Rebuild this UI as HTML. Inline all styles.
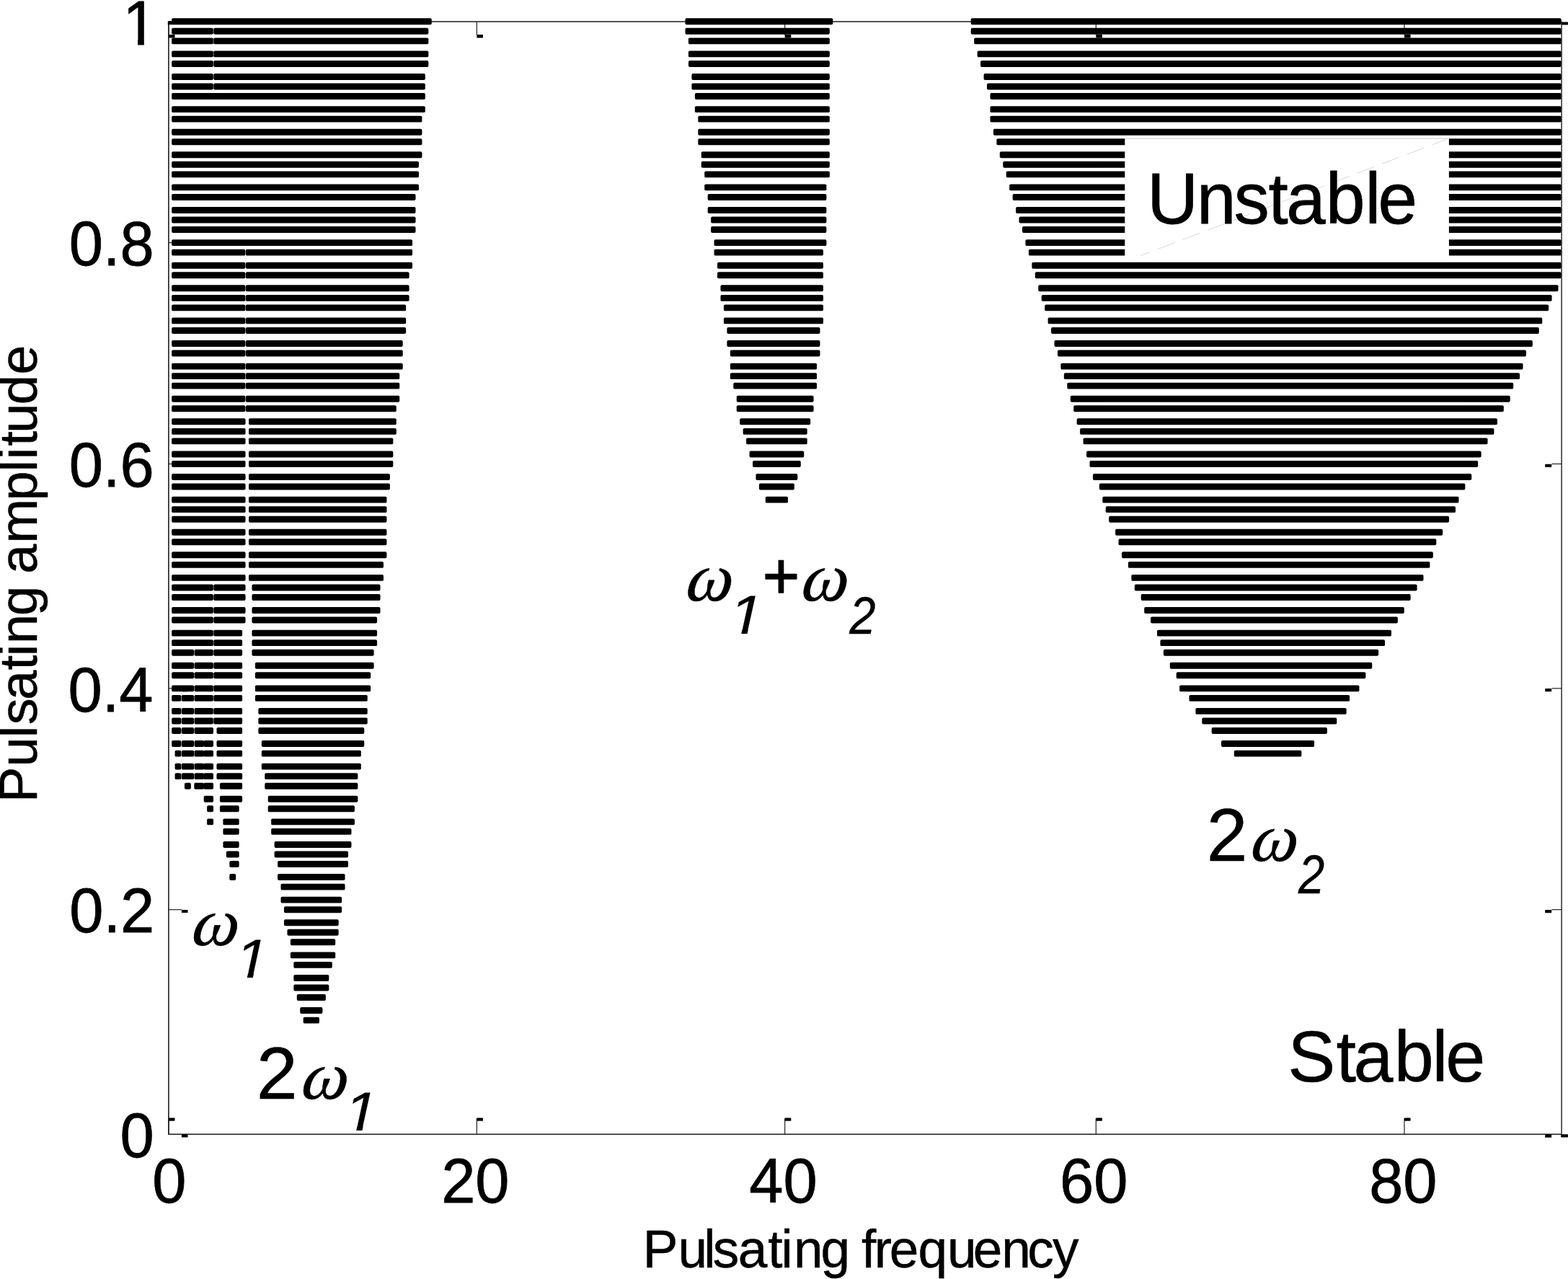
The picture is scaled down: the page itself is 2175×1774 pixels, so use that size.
<!DOCTYPE html>
<html><head><meta charset="utf-8"><title>Stability chart</title>
<style>html,body{margin:0;padding:0;background:#fff;overflow:hidden}svg{display:block}</style></head>
<body>
<svg width="2175" height="1774" viewBox="0 0 2175 1774" role="img" aria-label="Stability chart: pulsating amplitude versus pulsating frequency">
<defs><clipPath id="c1"><path d="M-10 -90H70V-10H34.73 V3H24.4 V-10H-10Z"/></clipPath><clipPath id="c1i"><path d="M-10 -90H80V-10H31.3 L28.8 3H19.15 L21.65 -10H-10Z"/></clipPath></defs>
<rect width="2175" height="1774" fill="#fff"/>
<g fill="none" stroke="#1c1c1c" stroke-width="1.6">
<path d="M233.9 29.95V1573.3H2166.1M233.9 29.95H2166.1"/>
</g>
<g fill="#000">
<rect x="233.3" y="1551.1" width="1.2" height="22.2" fill="#222"/>
<rect x="233.9" y="1550.6" width="8.6" height="4.1" rx="0.6"/>
<rect x="233.3" y="29.95" width="1.2" height="18.6" fill="#222"/>
<rect x="233.9" y="48" width="8.6" height="4.5" rx="0.6"/>
<rect x="660.8" y="1551.1" width="1.2" height="22.2" fill="#222"/>
<rect x="661.4" y="1550.6" width="8.6" height="4.1" rx="0.6"/>
<rect x="660.8" y="29.95" width="1.2" height="18.6" fill="#222"/>
<rect x="661.4" y="48" width="8.6" height="4.5" rx="0.6"/>
<rect x="1088.1" y="1551.1" width="1.2" height="22.2" fill="#222"/>
<rect x="1088.7" y="1550.6" width="8.6" height="4.1" rx="0.6"/>
<rect x="1088.1" y="29.95" width="1.2" height="18.6" fill="#222"/>
<rect x="1088.7" y="48" width="8.6" height="4.5" rx="0.6"/>
<rect x="1519.7" y="1551.1" width="1.2" height="22.2" fill="#222"/>
<rect x="1520.3" y="1550.6" width="8.6" height="4.1" rx="0.6"/>
<rect x="1519.7" y="29.95" width="1.2" height="18.6" fill="#222"/>
<rect x="1520.3" y="48" width="8.6" height="4.5" rx="0.6"/>
<rect x="1947.4" y="1551.1" width="1.2" height="22.2" fill="#222"/>
<rect x="1948" y="1550.6" width="8.6" height="4.1" rx="0.6"/>
<rect x="1947.4" y="29.95" width="1.2" height="18.6" fill="#222"/>
<rect x="1948" y="48" width="8.6" height="4.5" rx="0.6"/>
<rect x="233.9" y="336.02" width="18" height="1.2" fill="#222"/>
<rect x="2152.5" y="336.02" width="13.6" height="1.2" fill="#222"/>
<rect x="251.9" y="336.82" width="8.6" height="4.1" rx="0.6"/>
<rect x="2143.2" y="336.82" width="9" height="4.3" rx="0.6"/>
<rect x="233.9" y="642.87" width="18" height="1.2" fill="#222"/>
<rect x="2152.5" y="642.87" width="13.6" height="1.2" fill="#222"/>
<rect x="251.9" y="643.67" width="8.6" height="4.1" rx="0.6"/>
<rect x="2143.2" y="643.67" width="9" height="4.3" rx="0.6"/>
<rect x="233.9" y="954.23" width="18" height="1.2" fill="#222"/>
<rect x="2152.5" y="954.23" width="13.6" height="1.2" fill="#222"/>
<rect x="251.9" y="955.03" width="8.6" height="4.1" rx="0.6"/>
<rect x="2143.2" y="955.03" width="9" height="4.3" rx="0.6"/>
<rect x="233.9" y="1261.08" width="18" height="1.2" fill="#222"/>
<rect x="2152.5" y="1261.08" width="13.6" height="1.2" fill="#222"/>
<rect x="251.9" y="1261.88" width="8.6" height="4.1" rx="0.6"/>
<rect x="2143.2" y="1261.88" width="9" height="4.3" rx="0.6"/>
<rect x="251.9" y="1573.5" width="8.6" height="4.1" rx="0.6"/>
<rect x="2143.2" y="1573.5" width="9" height="4.3" rx="0.6"/>
<rect x="232.8" y="29.3" width="7.2" height="4.9"/>
<rect x="2165.6" y="30.4" width="9.4" height="4.2" rx="0.6"/>
<rect x="2165.2" y="1573.3" width="9.8" height="4.1" rx="0.6"/>
</g>
<g fill="#000">
<rect x="238.15" y="25.32" width="360.63" height="8.9" rx="1.9"/>
<rect x="950.5" y="25.32" width="204.8" height="8.9" rx="1.9"/>
<rect x="1346.75" y="25.32" width="818.95" height="8.9" rx="1.9"/>
<rect x="238.15" y="38.86" width="57.63" height="8.9" rx="1.9"/>
<rect x="296.28" y="38.86" width="298.05" height="8.9" rx="1.9"/>
<rect x="950.5" y="38.86" width="200.35" height="8.9" rx="1.9"/>
<rect x="1346.75" y="38.86" width="818.95" height="8.9" rx="1.9"/>
<rect x="238.15" y="52.39" width="57.63" height="8.9" rx="1.9"/>
<rect x="296.28" y="52.39" width="298.05" height="8.9" rx="1.9"/>
<rect x="954.95" y="52.39" width="195.9" height="8.9" rx="1.9"/>
<rect x="1351.2" y="52.39" width="814.5" height="8.9" rx="1.9"/>
<rect x="238.15" y="70.44" width="57.63" height="8.9" rx="1.9"/>
<rect x="296.28" y="70.44" width="298.05" height="8.9" rx="1.9"/>
<rect x="954.95" y="70.44" width="195.9" height="8.9" rx="1.9"/>
<rect x="1355.65" y="70.44" width="810.05" height="8.9" rx="1.9"/>
<rect x="238.15" y="83.98" width="57.63" height="8.9" rx="1.9"/>
<rect x="296.28" y="83.98" width="298.05" height="8.9" rx="1.9"/>
<rect x="954.95" y="83.98" width="195.9" height="8.9" rx="1.9"/>
<rect x="1360.1" y="83.98" width="805.6" height="8.9" rx="1.9"/>
<rect x="238.15" y="102.03" width="57.63" height="8.9" rx="1.9"/>
<rect x="296.28" y="102.03" width="293.6" height="8.9" rx="1.9"/>
<rect x="959.41" y="102.03" width="191.44" height="8.9" rx="1.9"/>
<rect x="1364.56" y="102.03" width="801.14" height="8.9" rx="1.9"/>
<rect x="238.15" y="115.57" width="57.63" height="8.9" rx="1.9"/>
<rect x="296.28" y="115.57" width="293.6" height="8.9" rx="1.9"/>
<rect x="959.41" y="115.57" width="191.44" height="8.9" rx="1.9"/>
<rect x="1369.01" y="115.57" width="796.69" height="8.9" rx="1.9"/>
<rect x="238.15" y="129.11" width="351.72" height="8.9" rx="1.9"/>
<rect x="963.86" y="129.11" width="186.99" height="8.9" rx="1.9"/>
<rect x="1373.46" y="129.11" width="792.24" height="8.9" rx="1.9"/>
<rect x="238.15" y="147.16" width="351.72" height="8.9" rx="1.9"/>
<rect x="963.86" y="147.16" width="186.99" height="8.9" rx="1.9"/>
<rect x="1373.46" y="147.16" width="792.24" height="8.9" rx="1.9"/>
<rect x="238.15" y="160.7" width="347.27" height="8.9" rx="1.9"/>
<rect x="968.31" y="160.7" width="182.54" height="8.9" rx="1.9"/>
<rect x="1373.46" y="160.7" width="792.24" height="8.9" rx="1.9"/>
<rect x="238.15" y="178.75" width="347.27" height="8.9" rx="1.9"/>
<rect x="968.31" y="178.75" width="182.54" height="8.9" rx="1.9"/>
<rect x="1377.91" y="178.75" width="787.79" height="8.9" rx="1.9"/>
<rect x="238.15" y="192.28" width="347.27" height="8.9" rx="1.9"/>
<rect x="968.31" y="192.28" width="182.54" height="8.9" rx="1.9"/>
<rect x="1382.37" y="192.28" width="783.33" height="8.9" rx="1.9"/>
<rect x="238.15" y="210.33" width="347.27" height="8.9" rx="1.9"/>
<rect x="972.76" y="210.33" width="178.09" height="8.9" rx="1.9"/>
<rect x="1386.82" y="210.33" width="778.88" height="8.9" rx="1.9"/>
<rect x="238.15" y="223.87" width="342.82" height="8.9" rx="1.9"/>
<rect x="972.76" y="223.87" width="178.09" height="8.9" rx="1.9"/>
<rect x="1391.27" y="223.87" width="774.43" height="8.9" rx="1.9"/>
<rect x="238.15" y="237.41" width="342.82" height="8.9" rx="1.9"/>
<rect x="977.22" y="237.41" width="173.64" height="8.9" rx="1.9"/>
<rect x="1395.72" y="237.41" width="769.98" height="8.9" rx="1.9"/>
<rect x="238.15" y="255.46" width="342.82" height="8.9" rx="1.9"/>
<rect x="977.22" y="255.46" width="169.18" height="8.9" rx="1.9"/>
<rect x="1400.17" y="255.46" width="765.53" height="8.9" rx="1.9"/>
<rect x="238.15" y="269" width="338.37" height="8.9" rx="1.9"/>
<rect x="981.67" y="269" width="164.73" height="8.9" rx="1.9"/>
<rect x="1404.63" y="269" width="761.07" height="8.9" rx="1.9"/>
<rect x="238.15" y="287.05" width="338.37" height="8.9" rx="1.9"/>
<rect x="981.67" y="287.05" width="164.73" height="8.9" rx="1.9"/>
<rect x="1409.08" y="287.05" width="756.62" height="8.9" rx="1.9"/>
<rect x="238.15" y="300.58" width="338.37" height="8.9" rx="1.9"/>
<rect x="986.12" y="300.58" width="160.28" height="8.9" rx="1.9"/>
<rect x="1413.53" y="300.58" width="752.17" height="8.9" rx="1.9"/>
<rect x="238.15" y="314.12" width="338.37" height="8.9" rx="1.9"/>
<rect x="986.12" y="314.12" width="160.28" height="8.9" rx="1.9"/>
<rect x="1417.98" y="314.12" width="747.72" height="8.9" rx="1.9"/>
<rect x="238.15" y="332.17" width="333.92" height="8.9" rx="1.9"/>
<rect x="990.57" y="332.17" width="155.83" height="8.9" rx="1.9"/>
<rect x="1422.44" y="332.17" width="743.26" height="8.9" rx="1.9"/>
<rect x="238.15" y="345.71" width="102.15" height="8.9" rx="1.9"/>
<rect x="340.8" y="345.71" width="231.26" height="8.9" rx="1.9"/>
<rect x="990.57" y="345.71" width="151.37" height="8.9" rx="1.9"/>
<rect x="1426.89" y="345.71" width="738.81" height="8.9" rx="1.9"/>
<rect x="238.15" y="363.76" width="102.15" height="8.9" rx="1.9"/>
<rect x="340.8" y="363.76" width="231.26" height="8.9" rx="1.9"/>
<rect x="995.02" y="363.76" width="146.92" height="8.9" rx="1.9"/>
<rect x="1431.34" y="363.76" width="734.36" height="8.9" rx="1.9"/>
<rect x="238.15" y="377.3" width="102.15" height="8.9" rx="1.9"/>
<rect x="340.8" y="377.3" width="226.81" height="8.9" rx="1.9"/>
<rect x="995.02" y="377.3" width="146.92" height="8.9" rx="1.9"/>
<rect x="1435.79" y="377.3" width="729.91" height="8.9" rx="1.9"/>
<rect x="238.15" y="395.35" width="102.15" height="8.9" rx="1.9"/>
<rect x="340.8" y="395.35" width="226.81" height="8.9" rx="1.9"/>
<rect x="999.48" y="395.35" width="142.47" height="8.9" rx="1.9"/>
<rect x="1440.24" y="395.35" width="721.26" height="8.9" rx="1.9"/>
<rect x="238.15" y="408.88" width="102.15" height="8.9" rx="1.9"/>
<rect x="340.8" y="408.88" width="226.81" height="8.9" rx="1.9"/>
<rect x="999.48" y="408.88" width="142.47" height="8.9" rx="1.9"/>
<rect x="1444.7" y="408.88" width="707.9" height="8.9" rx="1.9"/>
<rect x="238.15" y="422.42" width="102.15" height="8.9" rx="1.9"/>
<rect x="340.8" y="422.42" width="222.36" height="8.9" rx="1.9"/>
<rect x="1003.93" y="422.42" width="138.02" height="8.9" rx="1.9"/>
<rect x="1449.15" y="422.42" width="699" height="8.9" rx="1.9"/>
<rect x="238.15" y="440.47" width="102.15" height="8.9" rx="1.9"/>
<rect x="340.8" y="440.47" width="222.36" height="8.9" rx="1.9"/>
<rect x="1003.93" y="440.47" width="138.02" height="8.9" rx="1.9"/>
<rect x="1453.6" y="440.47" width="685.64" height="8.9" rx="1.9"/>
<rect x="238.15" y="454.01" width="102.15" height="8.9" rx="1.9"/>
<rect x="340.8" y="454.01" width="222.36" height="8.9" rx="1.9"/>
<rect x="1008.38" y="454.01" width="129.11" height="8.9" rx="1.9"/>
<rect x="1458.05" y="454.01" width="676.73" height="8.9" rx="1.9"/>
<rect x="238.15" y="472.06" width="102.15" height="8.9" rx="1.9"/>
<rect x="340.8" y="472.06" width="217.91" height="8.9" rx="1.9"/>
<rect x="1008.38" y="472.06" width="129.11" height="8.9" rx="1.9"/>
<rect x="1462.51" y="472.06" width="663.38" height="8.9" rx="1.9"/>
<rect x="238.15" y="485.6" width="102.15" height="8.9" rx="1.9"/>
<rect x="340.8" y="485.6" width="217.91" height="8.9" rx="1.9"/>
<rect x="1012.83" y="485.6" width="124.66" height="8.9" rx="1.9"/>
<rect x="1466.96" y="485.6" width="650.02" height="8.9" rx="1.9"/>
<rect x="238.15" y="503.65" width="102.15" height="8.9" rx="1.9"/>
<rect x="340.8" y="503.65" width="217.91" height="8.9" rx="1.9"/>
<rect x="1012.83" y="503.65" width="120.21" height="8.9" rx="1.9"/>
<rect x="1471.41" y="503.65" width="641.12" height="8.9" rx="1.9"/>
<rect x="238.15" y="517.18" width="102.15" height="8.9" rx="1.9"/>
<rect x="340.8" y="517.18" width="213.46" height="8.9" rx="1.9"/>
<rect x="1012.83" y="517.18" width="120.21" height="8.9" rx="1.9"/>
<rect x="1475.86" y="517.18" width="632.21" height="8.9" rx="1.9"/>
<rect x="238.15" y="530.72" width="102.15" height="8.9" rx="1.9"/>
<rect x="340.8" y="530.72" width="213.46" height="8.9" rx="1.9"/>
<rect x="1017.29" y="530.72" width="115.76" height="8.9" rx="1.9"/>
<rect x="1480.31" y="530.72" width="618.86" height="8.9" rx="1.9"/>
<rect x="238.15" y="548.77" width="102.15" height="8.9" rx="1.9"/>
<rect x="340.8" y="548.77" width="213.46" height="8.9" rx="1.9"/>
<rect x="1021.74" y="548.77" width="106.85" height="8.9" rx="1.9"/>
<rect x="1484.77" y="548.77" width="609.95" height="8.9" rx="1.9"/>
<rect x="238.15" y="562.31" width="102.15" height="8.9" rx="1.9"/>
<rect x="340.8" y="562.31" width="209" height="8.9" rx="1.9"/>
<rect x="1021.74" y="562.31" width="106.85" height="8.9" rx="1.9"/>
<rect x="1489.22" y="562.31" width="596.59" height="8.9" rx="1.9"/>
<rect x="238.15" y="580.36" width="102.4" height="8.9" rx="1.9"/>
<rect x="345" y="580.36" width="204.8" height="8.9" rx="1.9"/>
<rect x="1026.19" y="580.36" width="97.95" height="8.9" rx="1.9"/>
<rect x="1493.67" y="580.36" width="583.24" height="8.9" rx="1.9"/>
<rect x="238.15" y="593.89" width="102.4" height="8.9" rx="1.9"/>
<rect x="345" y="593.89" width="204.8" height="8.9" rx="1.9"/>
<rect x="1030.64" y="593.89" width="89.04" height="8.9" rx="1.9"/>
<rect x="1498.12" y="593.89" width="574.33" height="8.9" rx="1.9"/>
<rect x="238.15" y="607.43" width="102.4" height="8.9" rx="1.9"/>
<rect x="345" y="607.43" width="200.35" height="8.9" rx="1.9"/>
<rect x="1035.09" y="607.43" width="84.59" height="8.9" rx="1.9"/>
<rect x="1502.57" y="607.43" width="560.98" height="8.9" rx="1.9"/>
<rect x="238.15" y="625.48" width="102.4" height="8.9" rx="1.9"/>
<rect x="345" y="625.48" width="200.35" height="8.9" rx="1.9"/>
<rect x="1039.55" y="625.48" width="75.69" height="8.9" rx="1.9"/>
<rect x="1507.03" y="625.48" width="547.62" height="8.9" rx="1.9"/>
<rect x="238.15" y="639.02" width="102.4" height="8.9" rx="1.9"/>
<rect x="345" y="639.02" width="200.35" height="8.9" rx="1.9"/>
<rect x="1044" y="639.02" width="66.78" height="8.9" rx="1.9"/>
<rect x="1511.48" y="639.02" width="538.72" height="8.9" rx="1.9"/>
<rect x="238.15" y="657.07" width="102.4" height="8.9" rx="1.9"/>
<rect x="345" y="657.07" width="195.9" height="8.9" rx="1.9"/>
<rect x="1048.45" y="657.07" width="57.88" height="8.9" rx="1.9"/>
<rect x="1515.93" y="657.07" width="525.36" height="8.9" rx="1.9"/>
<rect x="238.15" y="670.61" width="102.4" height="8.9" rx="1.9"/>
<rect x="345" y="670.61" width="195.9" height="8.9" rx="1.9"/>
<rect x="1052.9" y="670.61" width="48.97" height="8.9" rx="1.9"/>
<rect x="1524.84" y="670.61" width="507.55" height="8.9" rx="1.9"/>
<rect x="238.15" y="688.66" width="102.4" height="8.9" rx="1.9"/>
<rect x="345" y="688.66" width="191.44" height="8.9" rx="1.9"/>
<rect x="1061.81" y="688.66" width="31.17" height="8.9" rx="1.9"/>
<rect x="1529.29" y="688.66" width="494.19" height="8.9" rx="1.9"/>
<rect x="238.15" y="702.19" width="102.4" height="8.9" rx="1.9"/>
<rect x="345" y="702.19" width="191.44" height="8.9" rx="1.9"/>
<rect x="1533.74" y="702.19" width="485.29" height="8.9" rx="1.9"/>
<rect x="238.15" y="715.73" width="102.4" height="8.9" rx="1.9"/>
<rect x="345" y="715.73" width="191.44" height="8.9" rx="1.9"/>
<rect x="1538.19" y="715.73" width="471.93" height="8.9" rx="1.9"/>
<rect x="238.15" y="733.78" width="102.4" height="8.9" rx="1.9"/>
<rect x="345" y="733.78" width="191.44" height="8.9" rx="1.9"/>
<rect x="1547.1" y="733.78" width="454.12" height="8.9" rx="1.9"/>
<rect x="238.15" y="747.32" width="102.4" height="8.9" rx="1.9"/>
<rect x="345" y="747.32" width="191.44" height="8.9" rx="1.9"/>
<rect x="1551.55" y="747.32" width="440.77" height="8.9" rx="1.9"/>
<rect x="238.15" y="765.37" width="102.4" height="8.9" rx="1.9"/>
<rect x="345" y="765.37" width="191.44" height="8.9" rx="1.9"/>
<rect x="1556" y="765.37" width="431.86" height="8.9" rx="1.9"/>
<rect x="238.15" y="778.91" width="102.4" height="8.9" rx="1.9"/>
<rect x="345" y="778.91" width="186.99" height="8.9" rx="1.9"/>
<rect x="1564.91" y="778.91" width="418.51" height="8.9" rx="1.9"/>
<rect x="238.15" y="796.96" width="102.4" height="8.9" rx="1.9"/>
<rect x="345" y="796.96" width="186.99" height="8.9" rx="1.9"/>
<rect x="1569.36" y="796.96" width="405.15" height="8.9" rx="1.9"/>
<rect x="238.15" y="810.5" width="57.63" height="8.9" rx="1.9"/>
<rect x="296.28" y="810.5" width="44.27" height="8.9" rx="1.9"/>
<rect x="349.46" y="810.5" width="178.09" height="8.9" rx="1.9"/>
<rect x="1573.81" y="810.5" width="391.79" height="8.9" rx="1.9"/>
<rect x="238.15" y="824.03" width="57.63" height="8.9" rx="1.9"/>
<rect x="296.28" y="824.03" width="44.27" height="8.9" rx="1.9"/>
<rect x="349.46" y="824.03" width="178.09" height="8.9" rx="1.9"/>
<rect x="1582.71" y="824.03" width="373.98" height="8.9" rx="1.9"/>
<rect x="238.15" y="842.08" width="57.63" height="8.9" rx="1.9"/>
<rect x="296.28" y="842.08" width="44.27" height="8.9" rx="1.9"/>
<rect x="349.46" y="842.08" width="178.09" height="8.9" rx="1.9"/>
<rect x="1587.17" y="842.08" width="360.63" height="8.9" rx="1.9"/>
<rect x="238.15" y="855.62" width="57.63" height="8.9" rx="1.9"/>
<rect x="296.28" y="855.62" width="44.27" height="8.9" rx="1.9"/>
<rect x="349.46" y="855.62" width="173.64" height="8.9" rx="1.9"/>
<rect x="1596.07" y="855.62" width="342.82" height="8.9" rx="1.9"/>
<rect x="238.15" y="873.67" width="57.63" height="8.9" rx="1.9"/>
<rect x="296.28" y="873.67" width="39.82" height="8.9" rx="1.9"/>
<rect x="349.46" y="873.67" width="173.64" height="8.9" rx="1.9"/>
<rect x="1604.98" y="873.67" width="325.01" height="8.9" rx="1.9"/>
<rect x="238.15" y="887.21" width="57.63" height="8.9" rx="1.9"/>
<rect x="296.28" y="887.21" width="39.82" height="8.9" rx="1.9"/>
<rect x="349.46" y="887.21" width="173.64" height="8.9" rx="1.9"/>
<rect x="1609.43" y="887.21" width="311.65" height="8.9" rx="1.9"/>
<rect x="238.15" y="900.75" width="30.92" height="8.9" rx="1.9"/>
<rect x="269.57" y="900.75" width="26.21" height="8.9" rx="1.9"/>
<rect x="296.28" y="900.75" width="39.82" height="8.9" rx="1.9"/>
<rect x="349.46" y="900.75" width="169.18" height="8.9" rx="1.9"/>
<rect x="1613.88" y="900.75" width="298.3" height="8.9" rx="1.9"/>
<rect x="238.15" y="918.79" width="30.92" height="8.9" rx="1.9"/>
<rect x="269.57" y="918.79" width="26.21" height="8.9" rx="1.9"/>
<rect x="296.28" y="918.79" width="39.82" height="8.9" rx="1.9"/>
<rect x="353.91" y="918.79" width="164.73" height="8.9" rx="1.9"/>
<rect x="1622.78" y="918.79" width="280.49" height="8.9" rx="1.9"/>
<rect x="238.15" y="932.33" width="30.92" height="8.9" rx="1.9"/>
<rect x="269.57" y="932.33" width="26.21" height="8.9" rx="1.9"/>
<rect x="296.28" y="932.33" width="39.82" height="8.9" rx="1.9"/>
<rect x="353.91" y="932.33" width="160.28" height="8.9" rx="1.9"/>
<rect x="1631.69" y="932.33" width="262.68" height="8.9" rx="1.9"/>
<rect x="238.15" y="950.38" width="30.92" height="8.9" rx="1.9"/>
<rect x="269.57" y="950.38" width="26.21" height="8.9" rx="1.9"/>
<rect x="296.28" y="950.38" width="39.82" height="8.9" rx="1.9"/>
<rect x="353.91" y="950.38" width="160.28" height="8.9" rx="1.9"/>
<rect x="1636.14" y="950.38" width="249.32" height="8.9" rx="1.9"/>
<rect x="238.15" y="963.92" width="13.11" height="8.9" rx="1.9"/>
<rect x="251.76" y="963.92" width="17.31" height="8.9" rx="1.9"/>
<rect x="269.57" y="963.92" width="26.21" height="8.9" rx="1.9"/>
<rect x="296.28" y="963.92" width="39.82" height="8.9" rx="1.9"/>
<rect x="353.91" y="963.92" width="155.83" height="8.9" rx="1.9"/>
<rect x="1649.5" y="963.92" width="222.61" height="8.9" rx="1.9"/>
<rect x="238.15" y="981.97" width="13.11" height="8.9" rx="1.9"/>
<rect x="251.76" y="981.97" width="17.31" height="8.9" rx="1.9"/>
<rect x="269.57" y="981.97" width="26.21" height="8.9" rx="1.9"/>
<rect x="296.28" y="981.97" width="39.82" height="8.9" rx="1.9"/>
<rect x="358.36" y="981.97" width="151.37" height="8.9" rx="1.9"/>
<rect x="1658.4" y="981.97" width="209.25" height="8.9" rx="1.9"/>
<rect x="238.15" y="995.51" width="13.11" height="8.9" rx="1.9"/>
<rect x="251.76" y="995.51" width="17.31" height="8.9" rx="1.9"/>
<rect x="269.57" y="995.51" width="26.21" height="8.9" rx="1.9"/>
<rect x="296.28" y="995.51" width="39.82" height="8.9" rx="1.9"/>
<rect x="358.36" y="995.51" width="151.37" height="8.9" rx="1.9"/>
<rect x="1667.31" y="995.51" width="186.99" height="8.9" rx="1.9"/>
<rect x="238.15" y="1009.04" width="13.11" height="8.9" rx="1.9"/>
<rect x="251.76" y="1009.04" width="17.31" height="8.9" rx="1.9"/>
<rect x="269.57" y="1009.04" width="26.46" height="8.9" rx="1.9"/>
<rect x="300.48" y="1009.04" width="35.62" height="8.9" rx="1.9"/>
<rect x="358.36" y="1009.04" width="146.92" height="8.9" rx="1.9"/>
<rect x="1680.66" y="1009.04" width="160.28" height="8.9" rx="1.9"/>
<rect x="238.15" y="1027.1" width="13.11" height="8.9" rx="1.9"/>
<rect x="251.76" y="1027.1" width="17.31" height="8.9" rx="1.9"/>
<rect x="269.57" y="1027.1" width="13.41" height="8.9" rx="1.9"/>
<rect x="282.37" y="1027.1" width="13.66" height="8.9" rx="1.9"/>
<rect x="300.48" y="1027.1" width="35.62" height="8.9" rx="1.9"/>
<rect x="362.81" y="1027.1" width="142.47" height="8.9" rx="1.9"/>
<rect x="1694.02" y="1027.1" width="129.11" height="8.9" rx="1.9"/>
<rect x="242.6" y="1040.63" width="8.65" height="8.9" rx="1.9"/>
<rect x="251.76" y="1040.63" width="17.31" height="8.9" rx="1.9"/>
<rect x="269.57" y="1040.63" width="13.41" height="8.9" rx="1.9"/>
<rect x="282.37" y="1040.63" width="13.66" height="8.9" rx="1.9"/>
<rect x="300.48" y="1040.63" width="35.62" height="8.9" rx="1.9"/>
<rect x="362.81" y="1040.63" width="138.02" height="8.9" rx="1.9"/>
<rect x="1711.83" y="1040.63" width="93.5" height="8.9" rx="1.9"/>
<rect x="242.6" y="1058.68" width="8.65" height="8.9" rx="1.9"/>
<rect x="251.76" y="1058.68" width="17.31" height="8.9" rx="1.9"/>
<rect x="269.57" y="1058.68" width="13.41" height="8.9" rx="1.9"/>
<rect x="282.37" y="1058.68" width="13.66" height="8.9" rx="1.9"/>
<rect x="300.48" y="1058.68" width="35.62" height="8.9" rx="1.9"/>
<rect x="362.81" y="1058.68" width="138.02" height="8.9" rx="1.9"/>
<rect x="242.6" y="1072.22" width="8.65" height="8.9" rx="1.9"/>
<rect x="251.76" y="1072.22" width="17.31" height="8.9" rx="1.9"/>
<rect x="269.57" y="1072.22" width="13.41" height="8.9" rx="1.9"/>
<rect x="282.37" y="1072.22" width="13.66" height="8.9" rx="1.9"/>
<rect x="300.48" y="1072.22" width="35.62" height="8.9" rx="1.9"/>
<rect x="367.26" y="1072.22" width="129.11" height="8.9" rx="1.9"/>
<rect x="255.96" y="1085.76" width="8.9" height="8.9" rx="1.9"/>
<rect x="269.32" y="1085.76" width="13.66" height="8.9" rx="1.9"/>
<rect x="282.37" y="1085.76" width="13.66" height="8.9" rx="1.9"/>
<rect x="304.93" y="1085.76" width="31.17" height="8.9" rx="1.9"/>
<rect x="367.26" y="1085.76" width="129.11" height="8.9" rx="1.9"/>
<rect x="282.67" y="1103.81" width="13.36" height="8.9" rx="1.9"/>
<rect x="304.93" y="1103.81" width="31.17" height="8.9" rx="1.9"/>
<rect x="371.72" y="1103.81" width="124.66" height="8.9" rx="1.9"/>
<rect x="287.12" y="1117.35" width="8.9" height="8.9" rx="1.9"/>
<rect x="304.93" y="1117.35" width="26.71" height="8.9" rx="1.9"/>
<rect x="371.72" y="1117.35" width="120.21" height="8.9" rx="1.9"/>
<rect x="287.12" y="1135.39" width="8.9" height="8.9" rx="1.9"/>
<rect x="309.39" y="1135.39" width="22.26" height="8.9" rx="1.9"/>
<rect x="376.17" y="1135.39" width="115.76" height="8.9" rx="1.9"/>
<rect x="309.39" y="1148.93" width="22.26" height="8.9" rx="1.9"/>
<rect x="376.17" y="1148.93" width="111.31" height="8.9" rx="1.9"/>
<rect x="309.39" y="1166.98" width="22.26" height="8.9" rx="1.9"/>
<rect x="380.62" y="1166.98" width="106.85" height="8.9" rx="1.9"/>
<rect x="313.84" y="1180.52" width="17.81" height="8.9" rx="1.9"/>
<rect x="380.62" y="1180.52" width="102.4" height="8.9" rx="1.9"/>
<rect x="318.29" y="1194.06" width="13.36" height="8.9" rx="1.9"/>
<rect x="385.07" y="1194.06" width="97.95" height="8.9" rx="1.9"/>
<rect x="318.29" y="1212.11" width="8.9" height="8.9" rx="1.9"/>
<rect x="385.07" y="1212.11" width="93.5" height="8.9" rx="1.9"/>
<rect x="389.52" y="1225.64" width="89.04" height="8.9" rx="1.9"/>
<rect x="389.52" y="1243.69" width="84.59" height="8.9" rx="1.9"/>
<rect x="393.98" y="1257.23" width="80.14" height="8.9" rx="1.9"/>
<rect x="393.98" y="1275.28" width="75.69" height="8.9" rx="1.9"/>
<rect x="398.43" y="1288.82" width="71.24" height="8.9" rx="1.9"/>
<rect x="402.88" y="1302.36" width="62.33" height="8.9" rx="1.9"/>
<rect x="402.88" y="1320.41" width="62.33" height="8.9" rx="1.9"/>
<rect x="407.33" y="1333.94" width="53.43" height="8.9" rx="1.9"/>
<rect x="407.33" y="1351.99" width="48.97" height="8.9" rx="1.9"/>
<rect x="407.33" y="1365.53" width="48.97" height="8.9" rx="1.9"/>
<rect x="411.79" y="1379.07" width="40.07" height="8.9" rx="1.9"/>
<rect x="416.24" y="1397.12" width="31.17" height="8.9" rx="1.9"/>
<rect x="420.69" y="1410.66" width="22.26" height="8.9" rx="1.9"/>
</g>
<line x1="2166.1" y1="29.95" x2="2166.1" y2="1573.3" stroke="#1c1c1c" stroke-width="1.4"/>
<rect x="1560.3" y="191.9" width="449.6" height="165.6" fill="#fff"/>
<line x1="1560.3" y1="192.2" x2="2009.9" y2="192.2" stroke="#c8c8c8" stroke-width="1"/>
<line x1="2009.9" y1="191.9" x2="1582.3" y2="354.5" stroke="#d8d8d8" stroke-width="1" stroke-dasharray="25 12"/>
<g font-size="100" fill="#000">
<text transform="translate(95.83 368.4) scale(0.8487 0.8694)" font-family="Liberation Sans, sans-serif" stroke="#000" stroke-width="0.9" stroke-linejoin="round">0.8</text>
<text transform="translate(95.83 675.27) scale(0.8487 0.8694)" font-family="Liberation Sans, sans-serif" stroke="#000" stroke-width="0.9" stroke-linejoin="round">0.6</text>
<text transform="translate(94.56 986.63) scale(0.8487 0.8694)" font-family="Liberation Sans, sans-serif" stroke="#000" stroke-width="0.9" stroke-linejoin="round">0.4</text>
<text transform="translate(96.25 1293.48) scale(0.8487 0.8694)" font-family="Liberation Sans, sans-serif" stroke="#000" stroke-width="0.9" stroke-linejoin="round">0.2</text>
<text transform="translate(166.47 1605.2) scale(0.8487 0.8694)" font-family="Liberation Sans, sans-serif" stroke="#000" stroke-width="0.9" stroke-linejoin="round">0</text>
<text transform="translate(211.25 1668.2) scale(0.8487 0.8694)" font-family="Liberation Sans, sans-serif" stroke="#000" stroke-width="0.9" stroke-linejoin="round">0</text>
<text transform="translate(612.16 1668.2) scale(0.8487 0.8694)" font-family="Liberation Sans, sans-serif" stroke="#000" stroke-width="0.9" stroke-linejoin="round">20</text>
<text transform="translate(1039.32 1668.2) scale(0.8487 0.8694)" font-family="Liberation Sans, sans-serif" stroke="#000" stroke-width="0.9" stroke-linejoin="round">40</text>
<text transform="translate(1470.06 1668.2) scale(0.8487 0.8694)" font-family="Liberation Sans, sans-serif" stroke="#000" stroke-width="0.9" stroke-linejoin="round">60</text>
<text transform="translate(1899.17 1668.2) scale(0.8487 0.8694)" font-family="Liberation Sans, sans-serif" stroke="#000" stroke-width="0.9" stroke-linejoin="round">80</text>
<text transform="translate(260.89 1311.46) scale(0.9885 0.9375) skewX(-15)" font-family="Liberation Serif, serif" stroke="#000" stroke-width="0.5" stroke-linejoin="round">ω</text>
<text transform="translate(355.68 1523.7) scale(1.0239 1.0286)" font-family="Liberation Sans, sans-serif" stroke="#000" stroke-width="0.5" stroke-linejoin="round">2</text>
<text transform="translate(412.92 1523.56) scale(0.9852 0.9375) skewX(-15)" font-family="Liberation Serif, serif" stroke="#000" stroke-width="0.5" stroke-linejoin="round">ω</text>
<text transform="translate(946.62 833.45) scale(0.9852 0.9542) skewX(-15)" font-family="Liberation Serif, serif" stroke="#000" stroke-width="0.5" stroke-linejoin="round">ω</text>
<text transform="translate(1057.68 829.59) scale(0.8812 0.9050)" font-family="Liberation Sans, sans-serif" stroke="#000" stroke-width="1.6" stroke-linejoin="round">+</text>
<text transform="translate(1106.83 833.45) scale(0.9836 0.9542) skewX(-15)" font-family="Liberation Serif, serif" stroke="#000" stroke-width="0.5" stroke-linejoin="round">ω</text>
<text transform="translate(1178.15 878.6) scale(0.6541 0.7300)" font-family="Liberation Sans, sans-serif" font-style="italic" stroke="#000" stroke-width="0.5" stroke-linejoin="round">2</text>
<text transform="translate(1673.8 1194.1) scale(1.0196 1.0300)" font-family="Liberation Sans, sans-serif" stroke="#000" stroke-width="0.5" stroke-linejoin="round">2</text>
<text transform="translate(1729.89 1194.46) scale(0.9885 0.9438) skewX(-15)" font-family="Liberation Serif, serif" stroke="#000" stroke-width="0.5" stroke-linejoin="round">ω</text>
<text transform="translate(1801.05 1239) scale(0.6523 0.7529)" font-family="Liberation Sans, sans-serif" font-style="italic" stroke="#000" stroke-width="0.5" stroke-linejoin="round">2</text>
<text transform="translate(170.38 61.7) scale(0.8487 0.8694)" clip-path="url(#c1)" font-family="Liberation Sans, sans-serif" stroke="#000" stroke-width="0.9">1</text>
<text transform="translate(326.32 1356) scale(0.8339 0.7576)" clip-path="url(#c1i)" font-family="Liberation Sans, sans-serif" font-style="italic" stroke="#000" stroke-width="0.2">1</text>
<text transform="translate(477.32 1568.3) scale(0.8550 0.7634)" clip-path="url(#c1i)" font-family="Liberation Sans, sans-serif" font-style="italic" stroke="#000" stroke-width="0.2">1</text>
<text transform="translate(1011.32 878.6) scale(0.8621 0.7605)" clip-path="url(#c1i)" font-family="Liberation Sans, sans-serif" font-style="italic" stroke="#000" stroke-width="0.2">1</text>
<text transform="translate(891.79 1757.9) scale(0.7300 0.7350)" x="0 66.81 115.8 132.76 180.91 237.72 262.57 286.45 338.06 376.74 415.42 439.78 468.61 523.04 578.38 627.38 681.52 730.86 778.35" y="0" font-family="Liberation Sans, sans-serif" stroke="#000" stroke-width="0.7" stroke-linejoin="round">Pulsating frequency</text>
<text transform="translate(51 1112.96) rotate(-90) scale(0.7400 0.7350)" x="0 66.74 121.11 145.57 191.91 248.23 273.93 297.2 350.02 389.14 428.26 485.71 565.41 619.42 642.78 668.17 692.28 745.49 801.5" y="0" font-family="Liberation Sans, sans-serif" stroke="#000" stroke-width="0.7" stroke-linejoin="round">Pulsating amplitude</text>
<text transform="translate(1591.2 309.8) scale(0.9800 1.0100)" x="0 70.34 123.14 171.73 197.06 252.74 308.39 326.86" y="0" font-family="Liberation Sans, sans-serif" stroke="#000" stroke-width="0.8" stroke-linejoin="round">Unstable</text>
<text transform="translate(1786.3 1500.3) scale(0.9900 1.0100)" x="0 67.97 92.25 148.83 202.25 221.05" y="0" font-family="Liberation Sans, sans-serif" stroke="#000" stroke-width="0.5" stroke-linejoin="round">Stable</text>
</g>
</svg>
</body></html>
